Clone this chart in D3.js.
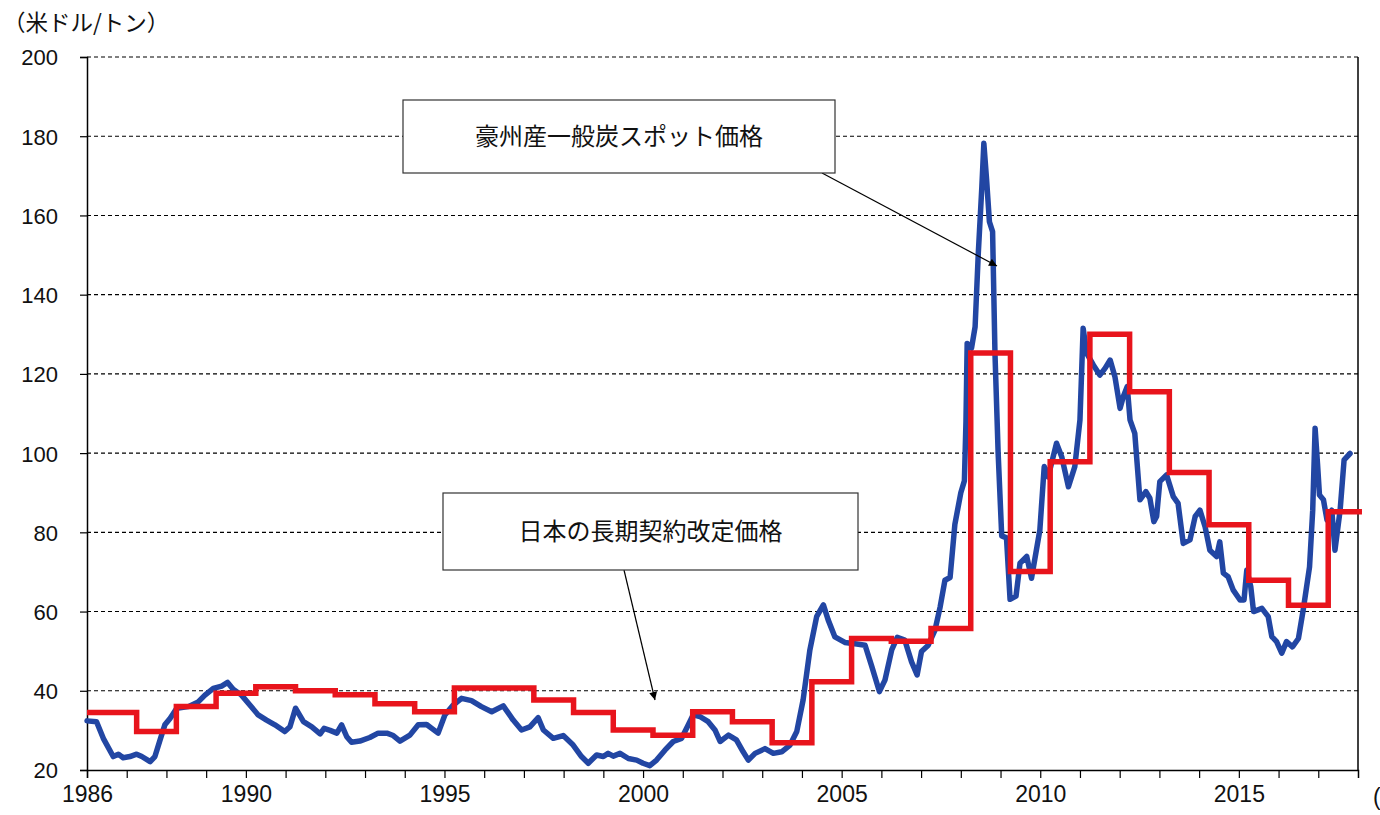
<!DOCTYPE html>
<html><head><meta charset="utf-8">
<script src="https://cdn.jsdelivr.net/npm/d3@7"></script>
<style>
html,body{margin:0;padding:0;background:#fff;}
svg{display:block;}
text{font-family:"Noto Sans CJK JP","Liberation Sans",sans-serif;fill:#111;}
.num{font-family:"Liberation Sans","Noto Sans CJK JP",sans-serif;}
</style></head>
<body>
<script>
// ---- data ----
const spotDates = [1986.00,1986.24,1986.41,1986.66,1986.79,1986.91,1987.08,1987.25,1987.38,1987.59,1987.71,1987.84,1987.96,1988.09,1988.26,1988.55,1988.80,1988.97,1989.18,1989.39,1989.54,1989.68,1989.89,1990.10,1990.31,1990.52,1990.73,1990.98,1991.11,1991.25,1991.45,1991.66,1991.87,1991.97,1992.12,1992.29,1992.41,1992.54,1992.66,1992.87,1993.12,1993.33,1993.55,1993.71,1993.88,1994.13,1994.34,1994.55,1994.68,1994.84,1995.01,1995.22,1995.43,1995.68,1995.93,1996.19,1996.48,1996.73,1996.94,1997.15,1997.36,1997.49,1997.74,1997.99,1998.24,1998.45,1998.62,1998.83,1999.00,1999.12,1999.25,1999.42,1999.63,1999.84,2000.00,2000.17,2000.34,2000.55,2000.76,2000.97,2001.14,2001.26,2001.43,2001.64,2001.81,2001.94,2002.15,2002.35,2002.52,2002.65,2002.82,2003.07,2003.28,2003.49,2003.70,2003.87,2004.03,2004.20,2004.37,2004.54,2004.66,2004.83,2005.08,2005.38,2005.59,2005.76,2005.95,2006.09,2006.26,2006.40,2006.59,2006.76,2006.90,2007.01,2007.18,2007.35,2007.48,2007.60,2007.73,2007.85,2008.00,2008.09,2008.13,2008.16,2008.27,2008.36,2008.44,2008.53,2008.58,2008.65,2008.72,2008.80,2008.86,2008.94,2009.03,2009.15,2009.24,2009.39,2009.49,2009.66,2009.78,2009.99,2010.10,2010.20,2010.41,2010.54,2010.71,2010.87,2011.00,2011.08,2011.17,2011.34,2011.50,2011.63,2011.76,2011.88,2012.01,2012.09,2012.19,2012.26,2012.38,2012.51,2012.66,2012.76,2012.86,2012.93,2013.01,2013.18,2013.35,2013.47,2013.60,2013.77,2013.90,2014.02,2014.15,2014.27,2014.44,2014.52,2014.61,2014.73,2014.86,2015.03,2015.13,2015.20,2015.30,2015.37,2015.58,2015.74,2015.83,2015.95,2016.08,2016.20,2016.35,2016.50,2016.62,2016.78,2016.86,2016.92,2016.98,2017.03,2017.13,2017.22,2017.34,2017.42,2017.55,2017.65,2017.80];
const spotPrices = [32.4,32.2,28.0,23.4,24.0,23.1,23.4,24.0,23.4,22.1,23.4,27.6,31.4,33.0,35.6,36.0,37.2,38.9,40.6,41.2,42.1,40.4,38.9,36.4,33.9,32.6,31.4,29.7,30.9,35.6,32.2,30.9,29.1,30.5,30.0,29.3,31.4,28.4,27.0,27.3,28.2,29.3,29.3,28.7,27.3,28.8,31.4,31.5,30.5,29.3,33.9,36.4,38.1,37.5,36.0,34.7,36.2,32.6,30.1,30.9,33.2,30.1,28.0,28.7,26.3,23.4,21.7,23.8,23.4,24.2,23.5,24.2,22.9,22.5,21.7,21.1,22.5,25.0,27.2,28.0,31.4,33.9,33.5,32.2,30.1,27.2,28.8,27.6,24.6,22.5,24.2,25.4,24.2,24.6,26.3,29.7,37.7,50.3,58.7,61.7,57.9,53.6,52.2,51.8,51.5,46.1,39.8,42.7,50.3,53.5,52.8,47.3,44.0,49.9,51.5,55.3,61.2,67.9,68.6,82.0,90.0,93.0,108.0,127.7,126.5,131.9,150.4,167.3,178.2,168.9,158.4,155.9,125.2,100.0,79.1,78.6,63.1,63.9,72.2,73.9,68.4,80.6,96.6,94.0,102.5,99.1,91.5,96.6,108.4,131.5,125.2,122.2,119.7,121.4,123.5,119.3,111.3,114.2,116.8,108.4,105.0,88.2,90.3,88.6,82.7,84.0,92.8,94.5,89.0,87.3,77.2,78.1,84.0,85.6,81.4,75.5,73.9,77.6,69.7,68.8,65.4,62.9,62.9,70.5,66.3,60.0,60.8,58.7,53.7,52.4,49.5,52.4,51.1,53.2,60.4,71.3,85.6,106.3,97.4,89.4,88.2,83.1,85.6,75.5,85.6,98.3,99.9];

const contractFY = [1985,1986,1987,1988,1989,1990,1991,1992,1993,1994,1995,1996,1997,1998,1999,2000,2001,2002,2003,2004,2005,2006,2007,2008,2009,2010,2011,2012,2013,2014,2015,2016,2017];
const contractPrices = [34.5,34.5,29.7,36.0,39.4,41.0,40.0,39.0,36.7,34.7,40.7,40.7,37.7,34.5,30.1,28.8,34.7,32.2,26.9,42.3,53.2,52.5,55.7,125.3,70.1,97.8,130.0,115.5,95.1,81.9,67.9,61.6,85.2];

const yTicks = [20,40,60,80,100,120,140,160,180,200];
const xTickYears = d3.range(1986, 2018);
const xLabelYears = [1986,1990,1995,2000,2005,2010,2015];

const unitLabel = "（米ドル/トン）";
const xUnitLabel = "(年)";
const spotLabel = "豪州産一般炭スポット価格";
const contractLabel = "日本の長期契約改定価格";

// ---- layout ----
const W = 1380, H = 815;
const L = 87, R = 1358, T = 57, B = 770;

const svg = d3.select("body").append("svg").attr("width", W).attr("height", H);

const x = d3.scaleLinear().domain([1986, 2018]).range([L, R]);
const y = d3.scaleLinear().domain([20, 200]).range([B, T]);

// gridlines
svg.append("g").selectAll("line").data(yTicks.filter(d => d > 20)).join("line")
  .attr("x1", L).attr("x2", R).attr("y1", d => y(d)).attr("y2", d => y(d))
  .attr("stroke", "#000").attr("stroke-width", 1.1).attr("stroke-dasharray", "4,3");

// right border
svg.append("line").attr("x1", R).attr("x2", R).attr("y1", T).attr("y2", B)
  .attr("stroke", "#000").attr("stroke-width", 1.5);

// y axis
const yAxis = svg.append("g").attr("transform", `translate(${L},0)`)
  .call(d3.axisLeft(y).tickValues(yTicks).tickSize(7).tickPadding(22).tickFormat(d3.format("d")));
yAxis.select(".domain").attr("stroke", "#000").attr("stroke-width", 1.5);
yAxis.selectAll(".tick line").attr("stroke", "#000").attr("stroke-width", 1.2);
yAxis.selectAll("text").attr("class", "num").attr("font-size", 22).attr("fill", "#111")
  .attr("dy", "0.36em");

// x axis
const xAxis = svg.append("g").attr("transform", `translate(0,${B})`)
  .call(d3.axisBottom(x).tickValues(xTickYears).tickSize(8).tickPadding(8)
    .tickFormat(d => xLabelYears.includes(d) ? String(d) : ""));
xAxis.select(".domain").attr("stroke", "#000").attr("stroke-width", 1.5);
xAxis.selectAll(".tick line").attr("stroke", "#000").attr("stroke-width", 1.2);
xAxis.selectAll("text").attr("class", "num").attr("font-size", 23).attr("fill", "#111");

// unit labels
svg.append("text").attr("x", 3).attr("y", 31).attr("font-size", 22.5).text(unitLabel);
svg.append("text").attr("class", "num").attr("x", 1373).attr("y", 805).attr("font-size", 23).text(xUnitLabel);

// spot line
const spotData = spotDates.map((d, i) => [d, spotPrices[i]]);
svg.append("path").datum(spotData)
  .attr("d", d3.line().x(d => x(d[0])).y(d => y(d[1])))
  .attr("fill", "none").attr("stroke", "#2246a3").attr("stroke-width", 5.5)
  .attr("stroke-linejoin", "round").attr("stroke-linecap", "round");

// contract step line
const contractData = contractFY.map((fy, i) => [Math.max(1986, fy + 0.25), contractPrices[i]]);
contractData.push([2018.1, contractPrices[contractPrices.length - 1]]);
svg.append("path").datum(contractData)
  .attr("d", d3.line().x(d => x(d[0])).y(d => y(d[1])).curve(d3.curveStepAfter))
  .attr("fill", "none").attr("stroke", "#e8141c").attr("stroke-width", 5.5)
  .attr("stroke-linejoin", "miter");

// arrow marker
const defs = svg.append("defs");
defs.append("marker").attr("id", "ah").attr("viewBox", "0 0 10 10")
  .attr("refX", 10).attr("refY", 5).attr("markerWidth", 10).attr("markerHeight", 8)
  .attr("markerUnits", "userSpaceOnUse").attr("orient", "auto")
  .append("path").attr("d", "M0,0 L10,5 L0,10 Z").attr("fill", "#000");

function callout(rx, ry, rw, rh, label, ax1, ay1, ax2, ay2) {
  svg.append("line").attr("x1", ax1).attr("y1", ay1).attr("x2", ax2).attr("y2", ay2)
    .attr("stroke", "#000").attr("stroke-width", 1.2).attr("marker-end", "url(#ah)");
  svg.append("rect").attr("x", rx).attr("y", ry).attr("width", rw).attr("height", rh)
    .attr("fill", "#fff").attr("stroke", "#333").attr("stroke-width", 1.2);
  svg.append("text").attr("x", rx + rw / 2).attr("y", ry + rh / 2).attr("dy", "0.35em")
    .attr("text-anchor", "middle").attr("font-size", 24).text(label);
}
callout(403, 100, 432, 73, spotLabel, 822, 173, 997, 266);
callout(443, 493, 415, 77, contractLabel, 624, 570, 655, 700);
</script>
</body></html>
